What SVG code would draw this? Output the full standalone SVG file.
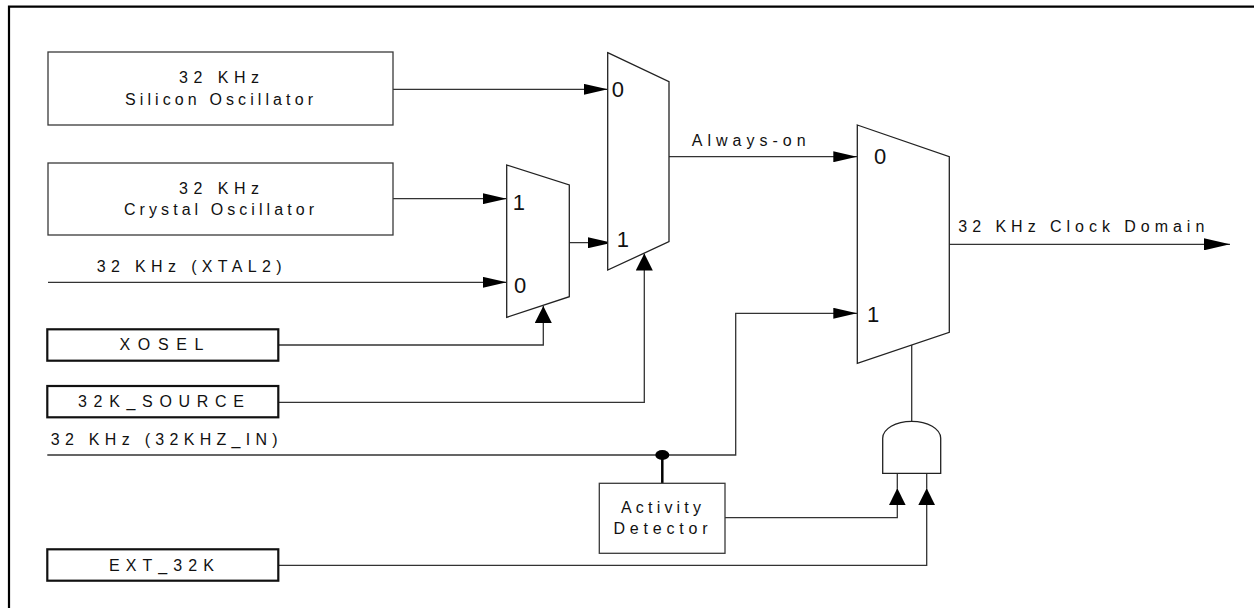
<svg xmlns="http://www.w3.org/2000/svg" width="1254" height="608" viewBox="0 0 1254 608">
<style>
.t{font-family:"Liberation Sans",Arial,sans-serif;font-size:16px;fill:#111}
.lbl{font-family:"Liberation Sans",Arial,sans-serif;font-size:22px;fill:#111}
.box{fill:#fff;stroke:#3a3a3a;stroke-width:1.3}
.sig{fill:#fff;stroke:#111;stroke-width:2.2}
.mux{fill:#fff;stroke:#222;stroke-width:1.3}
.w{fill:none;stroke:#333;stroke-width:1.3}
</style>
<defs>
<marker id="ain" markerUnits="userSpaceOnUse" markerWidth="24" markerHeight="11" refX="24" refY="5.5" orient="auto"><path d="M0,0 L24,5.5 L0,11 z" fill="#000"/></marker>
<marker id="asel" markerUnits="userSpaceOnUse" markerWidth="17" markerHeight="17" refX="17" refY="8.5" orient="auto"><path d="M0,0 L17,8.5 L0,17 z" fill="#000"/></marker>
<marker id="aout" markerUnits="userSpaceOnUse" markerWidth="26" markerHeight="12" refX="26" refY="6" orient="auto"><path d="M0,0 L26,6 L0,12 z" fill="#000"/></marker>
</defs>
<rect width="1254" height="608" fill="#fff"/>
<path d="M9,608 V6.7 H1254" fill="none" stroke="#000" stroke-width="2.2"/>

<g id="connectors">
<path class="w" d="M393,89.3 H607.7" marker-end="url(#ain)"/>
<path class="w" d="M393,198.7 H506.7" marker-end="url(#ain)"/>
<path class="w" d="M48,282.3 H506.7" marker-end="url(#ain)"/>
<path class="w" d="M569.3,242.7 H612" marker-end="url(#ain)"/>
<path class="w" d="M278.3,345 H543.3 V306" marker-end="url(#asel)"/>
<path class="w" d="M278.3,402.3 H644.3 V253.5" marker-end="url(#asel)"/>
<path class="w" d="M669,156.7 H857.3" marker-end="url(#ain)"/>
<path class="w" d="M47.3,455 H735.7 V313.3 H857.3" marker-end="url(#ain)"/>
<ellipse cx="662.3" cy="455" rx="7" ry="5" fill="#000"/>
<path d="M662.3,455 V483.3" fill="none" stroke="#000" stroke-width="2.5"/>
<path class="w" d="M725,517.7 H897.3 V488.3" marker-end="url(#asel)"/>
<path class="w" d="M897.3,488.3 V473.3"/>
<path class="w" d="M278.3,565.3 H926.7 V488.3" marker-end="url(#asel)"/>
<path class="w" d="M926.7,488.3 V473.3"/>
<path class="w" d="M911.7,421.7 V345"/>
<path class="w" d="M949.3,244.3 H1230" marker-end="url(#aout)"/>
<text class="t" x="691.7" y="146" textLength="114" lengthAdjust="spacing">Always-on</text>
<text class="t" x="958.3" y="231.7" textLength="246" lengthAdjust="spacing">32 KHz Clock Domain</text>
<text class="t" x="96.7" y="272" textLength="185" lengthAdjust="spacing">32 KHz (XTAL2)</text>
<text class="t" x="50.7" y="445" textLength="227" lengthAdjust="spacing">32 KHz (32KHZ_IN)</text>
</g>

<g id="silicon-osc">
<rect class="box" x="48" y="52" width="345" height="73"/>
<text class="t" x="219" y="83.3" text-anchor="middle" textLength="80" lengthAdjust="spacing">32 KHz</text>
<text class="t" x="219" y="105" text-anchor="middle" textLength="188" lengthAdjust="spacing">Silicon Oscillator</text>
</g>
<g id="crystal-osc">
<rect class="box" x="48" y="163" width="345" height="72"/>
<text class="t" x="219" y="194.3" text-anchor="middle" textLength="80" lengthAdjust="spacing">32 KHz</text>
<text class="t" x="219" y="215" text-anchor="middle" textLength="190" lengthAdjust="spacing">Crystal Oscillator</text>
</g>
<g id="xosel">
<rect class="sig" x="47.3" y="329.3" width="231" height="31.4"/>
<text class="t" x="161.5" y="350" text-anchor="middle" textLength="84" lengthAdjust="spacing">XOSEL</text>
</g>
<g id="src32k">
<rect class="sig" x="47.3" y="386" width="231" height="31.3"/>
<text class="t" x="161" y="407.3" text-anchor="middle" textLength="166" lengthAdjust="spacing">32K_SOURCE</text>
</g>
<g id="ext32k">
<rect class="sig" x="47.3" y="549.3" width="231" height="31.4"/>
<text class="t" x="161.5" y="571" text-anchor="middle" textLength="105" lengthAdjust="spacing">EXT_32K</text>
</g>
<g id="mux-xosel">
<polygon class="mux" points="506.7,165 569.3,185 569.3,296.7 506.7,317.3"/>
<text class="lbl" x="512.7" y="210">1</text>
<text class="lbl" x="514" y="293.3">0</text>
</g>
<g id="mux-source">
<polygon class="mux" points="607.7,52.7 669,81.7 669,241.7 607.7,270"/>
<text class="lbl" x="611.7" y="96.7">0</text>
<text class="lbl" x="616.7" y="247.3">1</text>
</g>
<g id="mux-out">
<polygon class="mux" points="857.3,125 949.3,156.7 949.3,332.3 857.3,363.3"/>
<text class="lbl" x="874" y="164">0</text>
<text class="lbl" x="867" y="321.7">1</text>
</g>
<g id="activity-detector">
<rect class="box" x="599.3" y="483.3" width="125.7" height="70"/>
<text class="t" x="661" y="512.7" text-anchor="middle" textLength="80" lengthAdjust="spacing">Activity</text>
<text class="t" x="660.5" y="534" text-anchor="middle" textLength="94" lengthAdjust="spacing">Detector</text>
</g>
<g id="and-gate">
<path class="mux" d="M882.7,473.3 V438.3 A29,17 0 0 1 940.7,438.3 V473.3 Z"/>
</g>
</svg>
